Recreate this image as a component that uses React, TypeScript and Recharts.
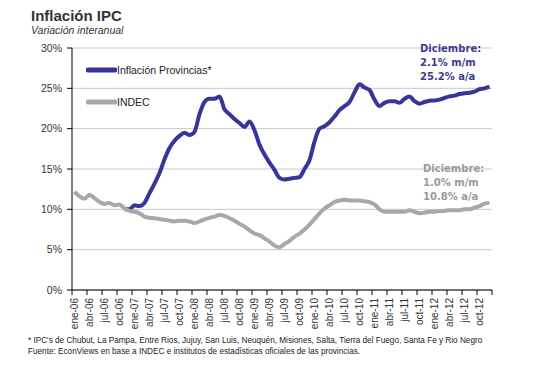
import React from "react";
import {
  LineChart,
  Line,
  XAxis,
  YAxis,
  CartesianGrid
} from "recharts";

const monthAbbr = ["ene", "feb", "mar", "abr", "may", "jun", "jul", "ago", "sep", "oct", "nov", "dic"];
const years = ["06", "07", "08", "09", "10", "11", "12"];
const months = years.flatMap(y => monthAbbr.map(m => `${m}-${y}`));

// Inflación Provincias* (% interanual), starts nov-06
const provincias: (number | null)[] = [
  null, null, null, null, null, null, null, null, null, null,
  10.0, 10.0,
  10.5, 10.4, 10.8, 12.0, 13.2, 14.5, 16.2, 17.6, 18.5, 19.1, 19.5, 19.2,
  19.6, 21.8, 23.3, 23.7, 23.7, 24.0, 22.4, 21.8, 21.2, 20.7, 20.2, 20.9,
  19.8, 18.0, 16.8, 15.8, 14.9, 13.9, 13.7, 13.8, 13.9, 14.0, 15.0, 16.1,
  18.4, 20.0, 20.3, 20.8, 21.5, 22.3, 22.8, 23.3, 24.5, 25.5, 25.1, 24.8,
  23.6, 22.8, 23.2, 23.4, 23.4, 23.2, 23.7, 24.0, 23.4, 23.1, 23.3, 23.45,
  23.5, 23.6, 23.8, 24.0, 24.1, 24.3, 24.4, 24.45, 24.6, 24.9, 25.0, 25.2
];

// INDEC (% interanual)
const indec = [
  12.2, 11.6, 11.3, 11.8, 11.4, 10.9, 10.65, 10.8, 10.5, 10.6, 10.1, 9.8,
  9.7, 9.5, 9.1, 8.95, 8.9, 8.8, 8.7, 8.6, 8.5, 8.6, 8.6, 8.5,
  8.3, 8.5, 8.75, 8.95, 9.1, 9.3, 9.2, 8.9, 8.6, 8.2, 7.85, 7.4,
  7.0, 6.8, 6.4, 6.0, 5.5, 5.3, 5.7, 6.1, 6.6, 7.0, 7.5, 8.1,
  8.8, 9.5, 10.1, 10.5, 10.9, 11.1, 11.2, 11.1, 11.1, 11.1, 11.0, 10.9,
  10.6, 10.0, 9.7, 9.7, 9.7, 9.7, 9.7, 9.9, 9.7, 9.5, 9.6, 9.7,
  9.7, 9.8, 9.8, 9.9, 9.9, 9.9, 10.0, 10.0, 10.2, 10.4, 10.7, 10.8
];

const yTicks = [0, 5, 10, 15, 20, 25, 30];

const data = months.map((m, i) => ({ month: m, prov: provincias[i], indec: indec[i] }));

const BLUE = "#35359a";
const GRAY = "#a8a8a8";
const FONT = "'Liberation Sans', Arial, sans-serif";
const STEP = 5;

const MonthTick = (props: any) => {
  const { x, y, payload } = props;
  const idx = months.indexOf(payload.value);
  const bx = x - STEP / 2;
  return (
    <g>
      <line x1={bx} x2={bx} y1={y} y2={y + 5} stroke="#000" />
      {idx + 3 >= months.length && (
        <line x1={bx + 3 * STEP} x2={bx + 3 * STEP} y1={y} y2={y + 5} stroke="#000" />
      )}
      <text
        transform={`translate(${x},${y + 8}) rotate(-90)`}
        textAnchor="end"
        dy="0.35em"
        fontSize={10}
        fontFamily={FONT}
        fill="#333"
      >
        {payload.value}
      </text>
    </g>
  );
};

const legendItems = [
  { name: "Inflación Provincias*", color: BLUE, top: 62 },
  { name: "INDEC", color: GRAY, top: 94 }
];

const noteStyle = (color: string): React.CSSProperties => ({
  position: "absolute",
  fontFamily: "'DejaVu Sans', Verdana, sans-serif",
  fontWeight: "bold",
  fontSize: 10,
  lineHeight: "14px",
  color
});

const App: React.FC = () => (
  <div style={{ position: "absolute", left: 0, top: 0, width: 533, height: 375, background: "#fff" }}>
    <div style={{ position: "absolute", left: 31, top: 7, fontFamily: FONT, fontWeight: "bold", fontSize: 15, color: "#333" }}>
      Inflación IPC
    </div>
    <div style={{ position: "absolute", left: 31, top: 24, fontFamily: FONT, fontStyle: "italic", fontSize: 10.5, color: "#333" }}>
      Variación interanual
    </div>

    <LineChart width={533} height={375} data={data} margin={{ top: 48, right: 41, bottom: 0, left: 0 }}>
      <CartesianGrid horizontal vertical={false} stroke="#c8c8c8" />
      <XAxis
        dataKey="month"
        interval={2}
        padding={{ left: STEP / 2, right: STEP / 2 }}
        tickLine={false}
        tickSize={0}
        tickMargin={0}
        axisLine={{ stroke: "#000" }}
        tick={<MonthTick />}
        height={85}
      />
      <YAxis
        width={72}
        domain={[0, 30]}
        ticks={yTicks}
        interval={0}
        tickFormatter={(v: number) => `${v}%`}
        axisLine={{ stroke: "#000" }}
        tickLine={{ stroke: "#000" }}
        tickSize={5}
        tickMargin={5}
        tick={{ fontSize: 10.5, fontFamily: FONT, fill: "#333" }}
      />
      <Line
        type="monotone"
        dataKey="prov"
        name="Inflación Provincias*"
        stroke={BLUE}
        strokeWidth={4}
        dot={false}
        connectNulls={false}
        isAnimationActive={false}
      />
      <Line
        type="monotone"
        dataKey="indec"
        name="INDEC"
        stroke={GRAY}
        strokeWidth={4}
        dot={false}
        isAnimationActive={false}
      />
    </LineChart>

    {legendItems.map(it => (
      <div
        key={it.name}
        style={{ position: "absolute", left: 86, top: it.top, display: "flex", alignItems: "center", height: 16, fontFamily: FONT, fontSize: 10.5, color: "#222" }}
      >
        <svg width={31} height={8}>
          <line x1={2} x2={29} y1={4} y2={4} stroke={it.color} strokeWidth={5} strokeLinecap="round" />
        </svg>
        <span>{it.name}</span>
      </div>
    ))}

    <div style={{ ...noteStyle("#3d3d8c"), left: 420, top: 42 }}>
      Diciembre:<br />2.1% m/m<br />25.2% a/a
    </div>
    <div style={{ ...noteStyle("#9a9a9a"), left: 423, top: 162 }}>
      Diciembre:<br />1.0% m/m<br />10.8% a/a
    </div>

    <div style={{ position: "absolute", left: 28, top: 335, fontFamily: FONT, fontSize: 8.2, lineHeight: "11px", color: "#222" }}>
      * IPC's de Chubut, La Pampa, Entre Rios, Jujuy, San Luis, Neuquén, Misiones, Salta, Tierra del Fuego, Santa Fe y Rio Negro
      <br />
      Fuente: EconViews en base a INDEC e institutos de estadísticas oficiales de las provincias.
    </div>
  </div>
);

export default App;
